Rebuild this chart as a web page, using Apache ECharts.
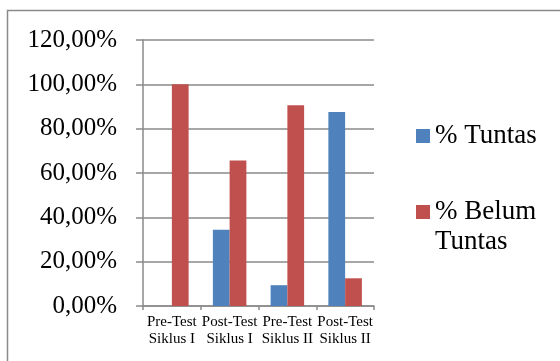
<!DOCTYPE html>
<html>
<head>
<meta charset="utf-8">
<script src="https://cdn.jsdelivr.net/npm/echarts@6/dist/echarts.min.js"></script>
<style>
  html, body { margin: 0; padding: 0; background: #fff; }
  #chart { width: 560px; height: 361px; }
</style>
</head>
<body>
<div id="chart"></div>
<script>
// data
var categories = ['Pre-Test\nSiklus I', 'Post-Test\nSiklus I', 'Pre-Test\nSiklus II', 'Post-Test\nSiklus II']
var seriesNames = ['% Tuntas', '% Belum Tuntas']
var tuntas = [0, 34.38, 9.38, 87.5]
var belumTuntas = [100, 65.62, 90.62, 12.5]

var chart = echarts.init(document.getElementById('chart'))
var gray = '#8a8a8a'
var font = '"Liberation Serif", "Times New Roman", serif'

var option = {
  animation: false,
  textStyle: { fontFamily: font },
  color: ['#4F81BD', '#C0504D'],
  graphic: [
    {
      type: 'rect',
      shape: { x: 7.5, y: 10.5, width: 700, height: 500 },
      style: { fill: 'none', stroke: '#8a8a8a', lineWidth: 1.5 },
      silent: true
    }
  ],
  grid: { left: 143, right: 186, top: 40, bottom: 55 },
  legend: {
    orient: 'vertical',
    left: 416,
    top: 121,
    padding: 0,
    itemWidth: 14,
    itemHeight: 14,
    itemGap: 16,
    icon: 'rect',
    textStyle: { fontFamily: font, fontSize: 27, color: '#000', lineHeight: 30 },
    // blank first line keeps the square level with "% Belum"
    formatter: function(name) {
      return name === '% Belum Tuntas' ? ' \n% Belum\nTuntas' : name
    },
    data: seriesNames
  },
  xAxis: {
    type: 'category',
    data: categories,
    axisLine: { lineStyle: { color: gray, width: 1.5 } },
    axisTick: { show: true, length: 4, lineStyle: { color: gray, width: 1.5 } },
    axisLabel: { fontFamily: font, fontSize: 15, color: '#000', lineHeight: 17, margin: 8, interval: 0 }
  },
  yAxis: {
    type: 'value',
    min: 0,
    max: 120,
    interval: 20,
    axisLine: { show: true, lineStyle: { color: gray, width: 1.5 } },
    axisTick: { show: true, length: 7, lineStyle: { color: gray, width: 1.5 } },
    splitLine: { lineStyle: { color: gray, width: 1.5 } },
    axisLabel: {
      fontFamily: font,
      fontSize: 25,
      color: '#000',
      margin: 26,
      formatter: function(v) {
        return v.toFixed(2).replace('.', ',') + '%'
      }
    }
  },
  series: [
    { name: seriesNames[0], type: 'bar', data: tuntas, barGap: 0, barCategoryGap: '42%' },
    { name: seriesNames[1], type: 'bar', data: belumTuntas, barGap: 0, barCategoryGap: '42%' }
  ]
}
chart.setOption(option)
window.addEventListener('resize', function() {
  chart.resize()
})
</script>
</body>
</html>
